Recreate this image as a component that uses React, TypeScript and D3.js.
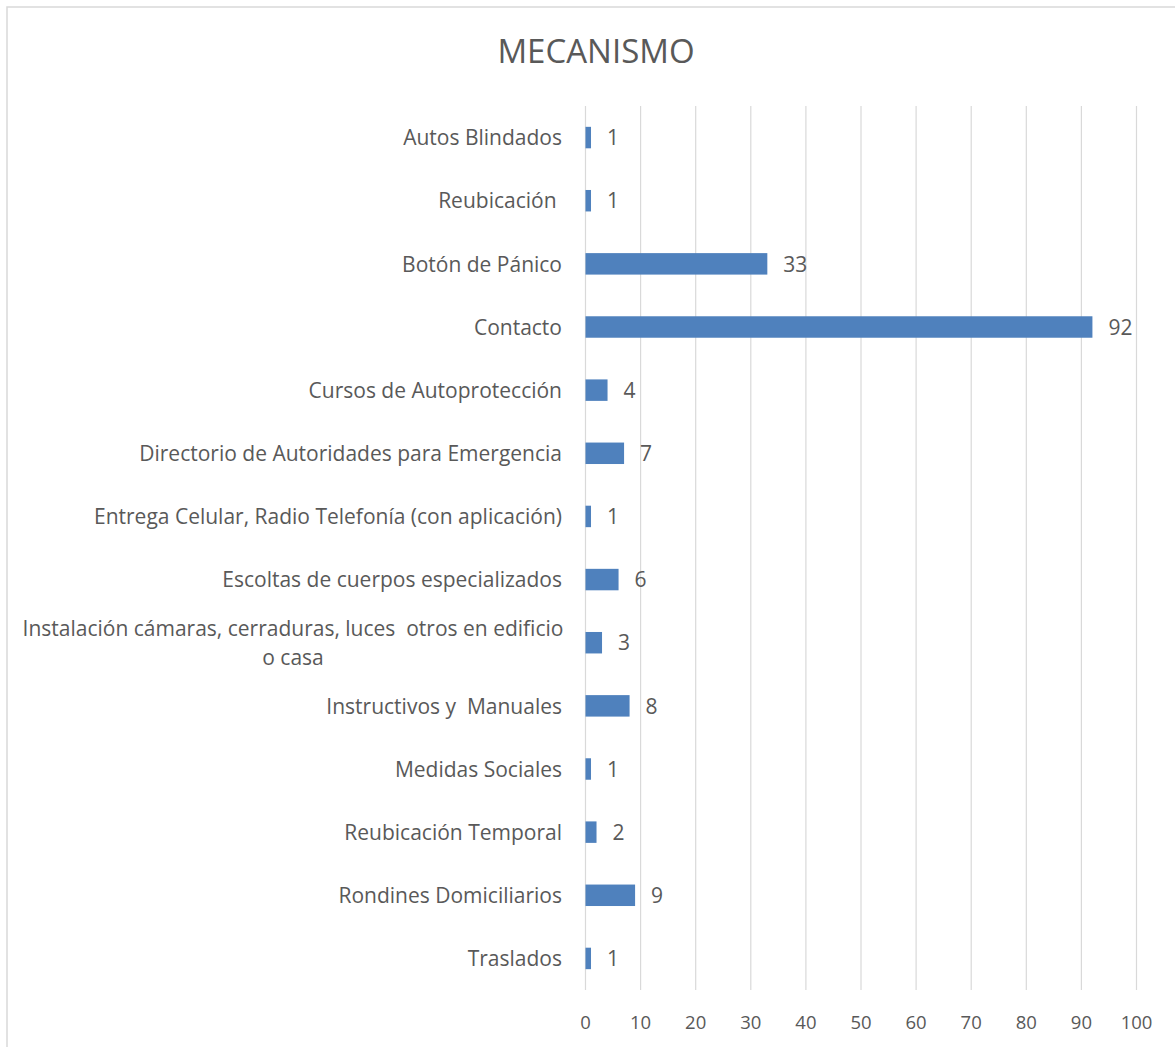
import React from "react";
import * as d3 from "d3";

const categories = [
  "Autos Blindados",
  "Reubicación ",
  "Botón de Pánico",
  "Contacto",
  "Cursos de Autoprotección",
  "Directorio de Autoridades para Emergencia",
  "Entrega Celular, Radio Telefonía (con aplicación)",
  "Escoltas de cuerpos especializados",
  "Instalación cámaras, cerraduras, luces  otros en edificio|o casa",
  "Instructivos y  Manuales",
  "Medidas Sociales",
  "Reubicación Temporal",
  "Rondines Domiciliarios",
  "Traslados",
];
const values = [1, 1, 33, 92, 4, 7, 1, 6, 3, 8, 1, 2, 9, 1];
const xTicks = [0, 10, 20, 30, 40, 50, 60, 70, 80, 90, 100];
const title = "MECANISMO";

const W = 1175;
const H = 1047;
const FONT = "'Open Sans', sans-serif";
const TEXT = "#595959";
const LABEL_FS = 21;

export default function App() {
  const x = d3.scaleLinear().domain([0, 100]).range([585.5, 1136.5]);
  const y = d3
    .scaleBand<string>()
    .domain(categories)
    .range([106, 990])
    .paddingInner(0.66)
    .paddingOuter(0.33);
  const bw = y.bandwidth();

  return (
    <svg
      width={W}
      height={H}
      style={{ position: "absolute", left: 0, top: 0, background: "#fff" }}
    >
      <rect x={7} y={7} width={W} height={H} fill="#fff" stroke="#d9d9d9" strokeWidth={1.5} />
      <text x={596} y={63} textAnchor="middle" fontFamily={FONT} fontSize={33} fill={TEXT}>
        {title}
      </text>
      {xTicks.map((t) => (
        <g key={t}>
          <line x1={x(t)} x2={x(t)} y1={106} y2={990} stroke="#d9d9d9" strokeWidth={1.2} />
          <text
            x={x(t)}
            y={1029}
            textAnchor="middle"
            fontFamily={FONT}
            fontSize={18.5}
            fill={TEXT}
          >
            {t}
          </text>
        </g>
      ))}
      {categories.map((c, i) => {
        const cy = (y(c) as number) + bw / 2;
        const lines = c.split("|");
        const v = values[i];
        return (
          <g key={c}>
            <rect x={x(0)} y={y(c)} width={x(v) - x(0)} height={bw} fill="#4f81bd" />
            <text
              x={x(v) + 16}
              y={cy}
              dy="0.37em"
              fontFamily={FONT}
              fontSize={LABEL_FS}
              fill={TEXT}
            >
              {v}
            </text>
            {lines.length === 1 ? (
              <text
                x={562}
                y={cy}
                dy="0.37em"
                textAnchor="end"
                fontFamily={FONT}
                fontSize={LABEL_FS}
                fill={TEXT}
                style={{ whiteSpace: "pre" }}
              >
                {c}
              </text>
            ) : (
              <text
                fontFamily={FONT}
                fontSize={LABEL_FS}
                fill={TEXT}
                textAnchor="middle"
                style={{ whiteSpace: "pre" }}
              >
                {lines.map((l, k) => (
                  <tspan key={k} x={293} y={cy + (k - (lines.length - 1) / 2) * 29} dy="0.37em">
                    {l}
                  </tspan>
                ))}
              </text>
            )}
          </g>
        );
      })}
    </svg>
  );
}
